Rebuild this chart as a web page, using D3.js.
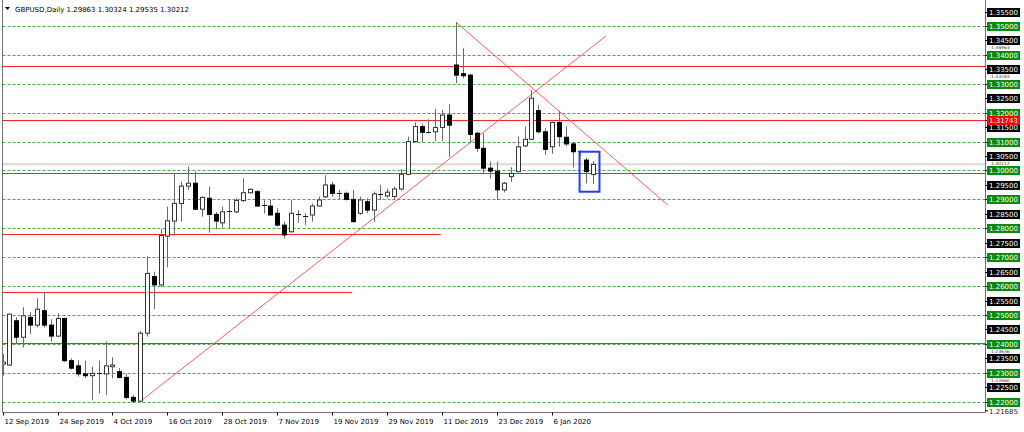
<!DOCTYPE html>
<html>
<head>
<meta charset="utf-8">
<script src="https://cdn.jsdelivr.net/npm/d3@7"></script>
<style>
  body { margin: 0; background: #fff; }
  text { font-family: "DejaVu Sans", sans-serif; }
</style>
</head>
<body>
<svg id="chart"></svg>
<script>
// Daily bars, GBPUSD
const dates = [
  "2019-09-12","2019-09-13","2019-09-16","2019-09-17","2019-09-18","2019-09-19","2019-09-20","2019-09-23",
  "2019-09-24","2019-09-25","2019-09-26","2019-09-27","2019-09-30","2019-10-01","2019-10-02","2019-10-03",
  "2019-10-04","2019-10-07","2019-10-08","2019-10-09","2019-10-10","2019-10-11","2019-10-14","2019-10-15",
  "2019-10-16","2019-10-17","2019-10-18","2019-10-21","2019-10-22","2019-10-23","2019-10-24","2019-10-25",
  "2019-10-28","2019-10-29","2019-10-30","2019-10-31","2019-11-01","2019-11-04","2019-11-05","2019-11-06",
  "2019-11-07","2019-11-08","2019-11-11","2019-11-12","2019-11-13","2019-11-14","2019-11-15","2019-11-18",
  "2019-11-19","2019-11-20","2019-11-21","2019-11-22","2019-11-25","2019-11-26","2019-11-27","2019-11-28",
  "2019-11-29","2019-12-02","2019-12-03","2019-12-04","2019-12-05","2019-12-06","2019-12-09","2019-12-10",
  "2019-12-11","2019-12-12","2019-12-13","2019-12-16","2019-12-17","2019-12-18","2019-12-19","2019-12-20",
  "2019-12-23","2019-12-24","2019-12-26","2019-12-27","2019-12-30","2019-12-31","2020-01-02","2020-01-03",
  "2020-01-06","2020-01-07","2020-01-08","2020-01-09","2020-01-10","2020-01-13","2020-01-14"
];
const opens = [
  1.2330,1.2327,1.2480,1.2423,1.2492,1.2465,1.2515,1.2465,1.2427,1.2488,1.2342,1.2324,1.2296,1.2290,1.2298,1.2296,
  1.2321,1.2304,1.2284,1.2215,1.2202,1.2437,1.2633,1.2604,1.2773,1.2825,1.2886,1.2946,1.2956,1.2866,1.2904,1.2848,
  1.2819,1.2857,1.2857,1.2896,1.2923,1.2927,1.2881,1.2877,1.2852,1.2811,1.2788,1.2846,1.2843,1.2846,1.2877,1.2909,
  1.2950,1.2921,1.2921,1.2900,1.2852,1.2892,1.2863,1.2919,1.2912,1.2910,1.2936,1.2987,1.3100,1.3152,1.3134,1.3134,
  1.3149,1.3192,1.3365,1.3335,1.3330,1.3129,1.3077,1.3008,1.2998,1.2933,1.2979,1.2996,1.3085,1.3108,1.3207,1.3134,
  1.3082,1.3166,1.3115,1.3092,1.3066,1.3036,1.29863
];
const highs = [
  1.2365,1.2506,1.2492,1.2527,1.2511,1.2558,1.2580,1.2485,1.2506,1.2490,1.2350,1.2344,1.2342,1.2321,1.2342,1.2408,
  1.2354,1.2316,1.2296,1.2223,1.2445,1.2702,1.2650,1.2797,1.2875,1.2990,1.2961,1.3013,1.2996,1.2910,1.2944,1.2857,
  1.2875,1.2900,1.2904,1.2973,1.2938,1.2933,1.2898,1.2898,1.2869,1.2823,1.2898,1.2863,1.2852,1.2886,1.2910,1.2984,
  1.2961,1.2933,1.2927,1.2933,1.2910,1.2904,1.2927,1.2950,1.2938,1.2944,1.3005,1.3117,1.3167,1.3163,1.3178,1.3213,
  1.3209,1.3229,1.3514,1.3423,1.3335,1.3134,1.3129,1.3031,1.3031,1.2961,1.3011,1.3117,1.3152,1.3279,1.3227,1.3146,
  1.3169,1.3207,1.3152,1.3100,1.3070,1.3043,1.30324
];
const lows = [
  1.2290,1.2324,1.2400,1.2387,1.2434,1.2457,1.2457,1.2408,1.2423,1.2338,1.2312,1.2287,1.2282,1.2205,1.2229,1.2223,
  1.2281,1.2281,1.2208,1.2196,1.2199,1.2425,1.2520,1.2598,1.2665,1.2780,1.2823,1.2933,1.2863,1.2840,1.2785,1.2797,
  1.2800,1.2800,1.2852,1.2892,1.2921,1.2875,1.2852,1.2846,1.2806,1.2765,1.2785,1.2819,1.2811,1.2823,1.2875,1.2904,
  1.2909,1.2900,1.2896,1.2819,1.2846,1.2852,1.2823,1.2898,1.2904,1.2898,1.2930,1.2984,1.3098,1.3098,1.3129,1.3102,
  1.3102,1.3046,1.3302,1.3319,1.3094,1.3065,1.2987,1.2973,1.2898,1.2924,1.2961,1.2994,1.3082,1.3105,1.3129,1.3054,
  1.3058,1.3082,1.3085,1.3011,1.3050,1.2956,1.29535
];
const closes = [
  1.2337,1.2503,1.2423,1.2497,1.2465,1.2520,1.2465,1.2427,1.2488,1.2342,1.2316,1.2296,1.2290,1.2298,1.2296,1.2324,
  1.2327,1.2284,1.2215,1.2202,1.2437,1.2644,1.2604,1.2775,1.2826,1.2886,1.2946,1.2956,1.2866,1.2907,1.2848,1.2825,
  1.2857,1.2860,1.2896,1.2923,1.2935,1.2877,1.2878,1.2846,1.2811,1.2777,1.2852,1.2848,1.2841,1.2877,1.2898,1.2950,
  1.2921,1.2923,1.2900,1.2823,1.2898,1.2863,1.2919,1.2917,1.2925,1.2936,1.2987,1.3100,1.3152,1.3132,1.3131,1.3149,
  1.3192,1.3157,1.3330,1.3328,1.3125,1.3077,1.3008,1.2998,1.2933,1.2956,1.2990,1.3082,1.3108,1.3250,1.3134,1.3073,
  1.3166,1.3117,1.3092,1.3065,1.3064,1.2996,1.30212
];

// Time axis labels (every 8 bars)
const tickDates = ["2019-09-12","2019-09-24","2019-10-04","2019-10-16","2019-10-28","2019-11-07",
  "2019-11-19","2019-11-29","2019-12-11","2019-12-23","2020-01-06"];

// Price axis levels
const gridLevels = [1.22,1.23,1.24,1.25,1.26,1.27,1.28,1.29,1.30,1.31,1.32,1.33,1.34,1.35];
const halfLevels = [1.225,1.235,1.245,1.255,1.265,1.275,1.285,1.295,1.305,1.315,1.325,1.335,1.345,1.355];
// small labels squeezed between the axis boxes
const hiddenLabels = [1.34463, 1.33283, 1.30212, 1.23636, 1.22660];
const chartLow = 1.21685;

// Drawn objects: horizontal levels (to bar index, null = whole chart), trend lines, box
const levelPrices = [1.33606, 1.31743, 1.2990, 1.2402, 1.2779, 1.2581];
const levelEnds = [null, null, null, null, 63.8, 50.9];
const trendA = [[20, 1.2200], [87.85, 1.34654]];
const trendB = [[66.02, 1.3513], [96.84, 1.28806]];
const boxBars = [84.0, 86.9];
const boxPrices = [1.3065, 1.29266];
const bidPrice = 1.30212;

const width = 1024, height = 432;
const plot = {left: 2.5, right: 985.5, top: 0, bottom: 412.5};

const svg = d3.select("#chart")
  .attr("width", width)
  .attr("height", height)
  .style("background", "#ffffff");

const xScale = d3.scaleLinear().domain([0, 86]).range([2.6, 593.3]);
const yScale = d3.scaleLinear().domain([1.22, 1.35]).range([401.7, 26]);

svg.append("clipPath").attr("id", "plotClip")
  .append("rect")
  .attr("x", plot.left).attr("y", plot.top)
  .attr("width", plot.right - plot.left).attr("height", plot.bottom - plot.top);

const g = svg.append("g").attr("clip-path", "url(#plotClip)");

// Green dashed grid
g.selectAll(".grid").data(gridLevels).enter().append("line")
  .attr("x1", plot.left).attr("x2", plot.right)
  .attr("y1", d => Math.round(yScale(d)) + 0.5)
  .attr("y2", d => Math.round(yScale(d)) + 0.5)
  .attr("stroke", "#45a845")
  .attr("stroke-dasharray", "3,2");

// Bid line
g.append("line")
  .attr("x1", plot.left).attr("x2", plot.right)
  .attr("y1", yScale(bidPrice)).attr("y2", yScale(bidPrice))
  .attr("stroke", "#d9d9d9").attr("stroke-width", 2);

// Red horizontal levels
levelPrices.forEach((p, i) => {
  const y = Math.round(yScale(p)) + 0.5;
  g.append("line")
    .attr("x1", plot.left)
    .attr("x2", levelEnds[i] === null ? plot.right : xScale(levelEnds[i]))
    .attr("y1", y).attr("y2", y)
    .attr("stroke", "#ff2020");
});

// Trend lines
[trendA, trendB].forEach(t => {
  g.append("line")
    .attr("x1", xScale(t[0][0])).attr("y1", yScale(t[0][1]))
    .attr("x2", xScale(t[1][0])).attr("y2", yScale(t[1][1]))
    .attr("stroke", "#ff5a5a");
});

// Candles
const bodyW = 4;
dates.forEach((d, i) => {
  const x = Math.round(xScale(i)) + 0.5;
  const o = opens[i], c = closes[i];
  const top = yScale(Math.max(o, c)), bot = yScale(Math.min(o, c));

  // Wick
  g.append("line")
    .attr("x1", x).attr("x2", x)
    .attr("y1", yScale(highs[i])).attr("y2", yScale(lows[i]))
    .attr("stroke", "#6a6a6a");

  if (bot - top < 1.2) {
    // Doji
    g.append("line")
      .attr("x1", x - bodyW / 2 - 0.5).attr("x2", x + bodyW / 2 + 0.5)
      .attr("y1", Math.round(top) + 0.5).attr("y2", Math.round(top) + 0.5)
      .attr("stroke", "#111");
  } else {
    g.append("rect")
      .attr("x", x - bodyW / 2)
      .attr("y", top)
      .attr("width", bodyW)
      .attr("height", bot - top)
      .attr("fill", c >= o ? "#ffffff" : "#000000")
      .attr("stroke", c >= o ? "#333333" : "#000000");
  }
});

// Blue box round the last two bars
g.append("rect")
  .attr("x", xScale(boxBars[0]))
  .attr("y", yScale(boxPrices[0]))
  .attr("width", xScale(boxBars[1]) - xScale(boxBars[0]))
  .attr("height", yScale(boxPrices[1]) - yScale(boxPrices[0]))
  .attr("fill", "none")
  .attr("stroke", "#1f3dff")
  .attr("stroke-width", 2);

// Frame
svg.append("path")
  .attr("d", `M${plot.left},${plot.top}V${plot.bottom}H${plot.right}V${plot.top}`)
  .attr("fill", "none")
  .attr("stroke", "#707070");

// Header
svg.append("path").attr("d", "M5,7H10L7.5,10Z").attr("fill", "#000");
svg.append("text")
  .attr("x", 15).attr("y", 11.5)
  .attr("font-size", "7px")
  .attr("fill", "#000")
  .text("GBPUSD,Daily  1.29863 1.30324 1.29535 1.30212");

// Price axis
const ax = svg.append("g");
const fmt = d3.format(".5f");

// Put a small label in the gap between the two boxes nearest its price
const step = yScale(1.22) - yScale(1.225);
ax.selectAll(".hid").data(hiddenLabels).enter().append("text")
  .attr("x", 991)
  .attr("y", d => {
    const k = Math.floor((1.35 - d) / 0.005);
    return yScale(1.35) + (k + 0.5) * step;
  })
  .attr("dy", "0.35em")
  .attr("font-size", "4.5px")
  .attr("fill", "#333")
  .text(d => fmt(d));

function priceLabel(p, bg) {
  const y = Math.round(yScale(p));
  ax.append("line")
    .attr("x1", 985).attr("x2", 988)
    .attr("y1", y + 0.5).attr("y2", y + 0.5)
    .attr("stroke", "#000");
  ax.append("rect")
    .attr("x", 987).attr("y", y - 4)
    .attr("width", 33).attr("height", 9)
    .attr("fill", bg);
  ax.append("text")
    .attr("x", 989).attr("y", y + 0.5)
    .attr("dy", "0.35em")
    .attr("font-size", "7px")
    .attr("fill", "#ffffff")
    .text(fmt(p));
}

// red box of the 1.2990 level peeks from under the 1.30000 box
const y2990 = Math.round(yScale(levelPrices[2]));
ax.append("rect")
  .attr("x", 987).attr("y", y2990 - 1)
  .attr("width", 33).attr("height", 3)
  .attr("fill", "#ff0000");
halfLevels.forEach(p => priceLabel(p, "#000000"));
gridLevels.forEach(p => priceLabel(p, "#0a8a0a"));
priceLabel(levelPrices[1], "#ff0000");

ax.append("line")
  .attr("x1", 985).attr("x2", 988)
  .attr("y1", yScale(chartLow)).attr("y2", yScale(chartLow))
  .attr("stroke", "#000");
ax.append("text")
  .attr("x", 989).attr("y", yScale(chartLow) + 1)
  .attr("dy", "0.35em")
  .attr("font-size", "7px")
  .attr("fill", "#222")
  .text(fmt(chartLow));

// Time axis
const parse = d3.timeParse("%Y-%m-%d");
const tfmt = d3.timeFormat("%-d %b %Y");
tickDates.forEach(d => {
  const x = Math.round(xScale(dates.indexOf(d))) + 0.5;
  svg.append("line")
    .attr("x1", x).attr("x2", x)
    .attr("y1", plot.bottom).attr("y2", plot.bottom + 3)
    .attr("stroke", "#000");
  svg.append("text")
    .attr("x", x + 1).attr("y", 424)
    .attr("font-size", "7px")
    .attr("fill", "#000")
    .text(tfmt(parse(d)));
});
</script>
</body>
</html>
